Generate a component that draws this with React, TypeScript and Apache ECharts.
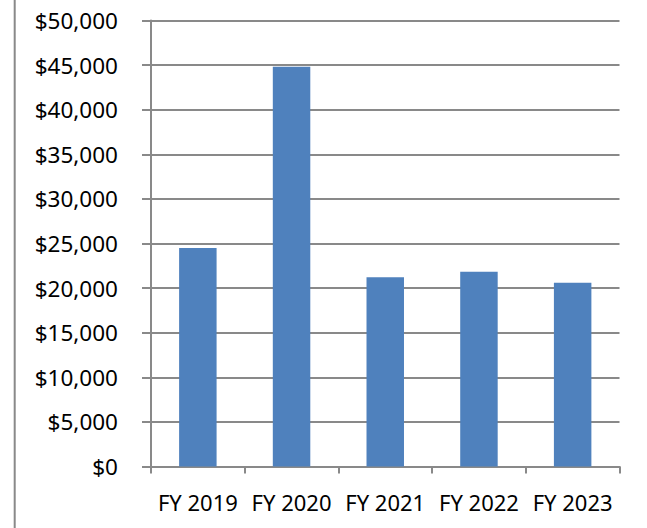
import React, { useEffect, useRef } from "react";
import * as echarts from "echarts";

const categories = ["FY 2019", "FY 2020", "FY 2021", "FY 2022", "FY 2023"];
const values = [24500, 44820, 21210, 21840, 20600];
const yMin = 0;
const yMax = 50000;
const yInterval = 5000;

const fmt = (v: number) => "$" + v.toLocaleString("en-US");

export default function App() {
  const ref = useRef<HTMLDivElement>(null);
  useEffect(() => {
    if (!ref.current) return;
    const chart = echarts.init(ref.current, null, { renderer: "svg" });
    const gray = "#898989";
    const font = "'Noto Sans', sans-serif";
    chart.setOption({
      animation: false,
      backgroundColor: "#ffffff",
      grid: { left: 151, right: 27.5, top: 20.5, height: 446, containLabel: false },
      graphic: [
        {
          type: "line",
          shape: { x1: 14.7, y1: 0, x2: 14.7, y2: 528 },
          style: { stroke: gray, lineWidth: 2 },
        },
      ],
      xAxis: {
        type: "category",
        data: categories,
        boundaryGap: true,
        axisLine: { show: true, lineStyle: { color: gray, width: 2 } },
        axisTick: { show: true, length: 7, alignWithLabel: false, lineStyle: { color: gray, width: 2 } },
        axisLabel: { color: "#000", fontFamily: font, fontSize: 22, margin: 24, interval: 0 },
        splitLine: { show: false },
      },
      yAxis: {
        type: "value",
        min: yMin,
        max: yMax,
        interval: yInterval,
        axisLine: { show: true, lineStyle: { color: gray, width: 2 } },
        axisTick: { show: true, length: 9, lineStyle: { color: gray, width: 2 } },
        axisLabel: { color: "#000", fontFamily: font, fontSize: 22.5, margin: 33, formatter: fmt },
        splitLine: { show: true, lineStyle: { color: gray, width: 2 } },
      },
      series: [
        {
          type: "bar",
          data: values,
          barWidth: "40%",
          itemStyle: { color: "#4F81BD" },
        },
      ],
    });
    return () => chart.dispose();
  }, []);
  return (
    <div
      ref={ref}
      style={{ position: "fixed", left: 0, top: 0, width: 647, height: 528, background: "#fff" }}
    />
  );
}
